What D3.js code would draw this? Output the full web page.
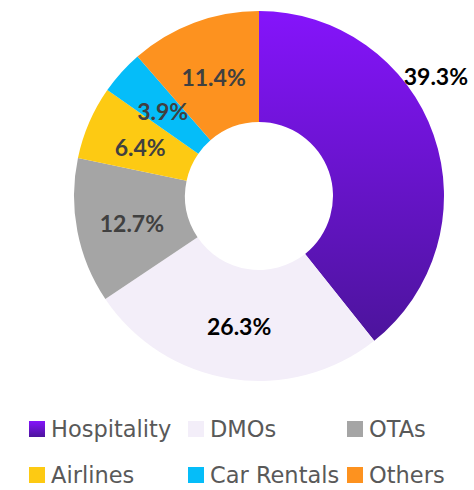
<!DOCTYPE html>
<html>
<head>
<meta charset="utf-8">
<script src="https://cdn.jsdelivr.net/npm/d3@7"></script>
<style>
  html, body { margin: 0; padding: 0; background: #fff; }
  svg { display: block; }
  .pct { font-family: Lato, "Open Sans", sans-serif; font-weight: bold; font-size: 23px; }
  .legend text { font-family: "DejaVu Sans", sans-serif; font-size: 22.5px; fill: #595959; }
</style>
</head>
<body>
<svg id="chart" width="474" height="490"></svg>
<script>
'use strict';

var categories = ["Hospitality", "DMOs", "OTAs", "Airlines", "Car Rentals", "Others"];
var shares = [39.3, 26.3, 12.7, 6.4, 3.9, 11.4];
var colors = ["url(#hospGrad)", "#f3eef9", "#a5a5a5", "#fdca13", "#05bdf9", "#fd921f"];
var labelColors = ["#000", "#000", "#404040", "#404040", "#404040", "#404040"];

var width = 474, height = 490;
var cx = 259, cy = 196;
var outerR = 185, innerR = 74;

var svg = d3.select("#chart");

// vertical purple gradient used by the hospitality slice and its legend key
var defs = svg.append("defs");
var grad = defs.append("linearGradient")
    .attr("id", "hospGrad")
    .attr("x1", 0).attr("y1", 0).attr("x2", 0).attr("y2", 1);
grad.append("stop").attr("offset", "0%").attr("stop-color", "#8514fb");
grad.append("stop").attr("offset", "100%").attr("stop-color", "#4c149c");

var data = categories.map(function(c, i) {
  return { name: c, value: shares[i], color: colors[i], labelColor: labelColors[i] };
});

var pie = d3.pie()
    .sort(null)
    .value(function(d) { return d.value; });

var arc = d3.arc()
    .innerRadius(innerR)
    .outerRadius(outerR);

var g = svg.append("g")
    .attr("transform", "translate(" + cx + "," + cy + ")");

var arcs = pie(data);

g.selectAll("path.slice")
    .data(arcs)
  .enter().append("path")
    .attr("class", "slice")
    .attr("d", arc)
    .attr("fill", function(d) { return d.data.color; });

// the first label sits out on the rim, the rest in the middle of the ring
function labelPos(d, i) {
  if (i === 0) {
    var a = d.startAngle + 0.394 * (d.endAngle - d.startAngle);
    var r = 214;
    return [r * Math.sin(a), -r * Math.cos(a)];
  }
  var c = arc.centroid(d);
  return [c[0], c[1] + 2];
}

g.selectAll("text.pct")
    .data(arcs)
  .enter().append("text")
    .attr("class", "pct")
    .attr("text-anchor", "middle")
    .attr("dominant-baseline", "central")
    .attr("transform", function(d, i) { return "translate(" + labelPos(d, i) + ")"; })
    .attr("fill", function(d) { return d.data.labelColor; })
    .text(function(d) { return d.data.value.toFixed(1) + "%"; });

// legend, three columns by two rows (y = text baseline)
var colX = [29, 188, 347];
var rowY = [437, 483];
var box = 16;

var legend = svg.append("g").attr("class", "legend");
var items = legend.selectAll("g.item")
    .data(data)
  .enter().append("g")
    .attr("class", "item")
    .attr("transform", function(d, i) {
      return "translate(" + colX[i % 3] + "," + rowY[Math.floor(i / 3)] + ")";
    });

items.append("rect")
    .attr("x", 0)
    .attr("y", -box)
    .attr("width", box)
    .attr("height", box)
    .attr("fill", function(d) { return d.color; });

items.append("text")
    .attr("x", box + 6)
    .attr("y", 0)
    .text(function(d) { return d.name; });
</script>
</body>
</html>
